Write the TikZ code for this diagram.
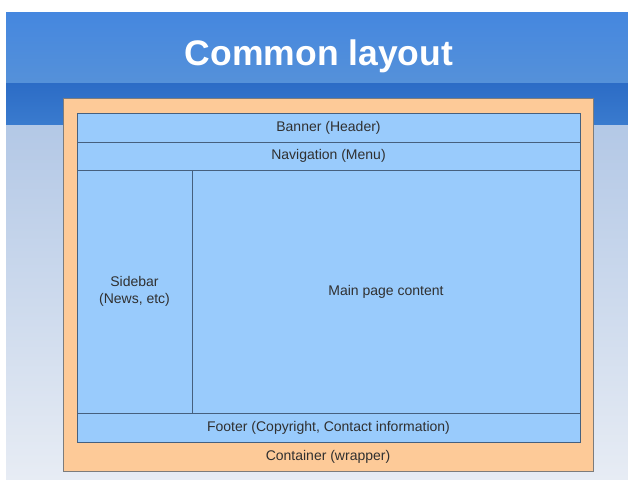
\documentclass[tikz,border=0pt]{standalone}
\usepackage{fontspec}
\setmainfont{Liberation Sans}
\definecolor{hdrtop}{HTML}{4587DF}
\definecolor{hdrbot}{HTML}{5591D9}
\definecolor{bandtop}{HTML}{2C6CC6}
\definecolor{bandbot}{HTML}{3A7BCE}
\definecolor{bgtop}{HTML}{B3C8E6}
\definecolor{bgbot}{HTML}{E7ECF4}
\definecolor{wrapfill}{HTML}{FDCA98}
\definecolor{wrapline}{HTML}{7C7C7C}
\definecolor{boxfill}{HTML}{99CBFC}
\definecolor{boxline}{HTML}{46607E}
\definecolor{txt}{HTML}{303030}
\tikzset{
  wrapbox/.style={draw=wrapline, fill=wrapfill, line width=1pt, anchor=north west, inner sep=0pt, outer sep=0pt},
  areabox/.style={draw=boxline, fill=boxfill, line width=0.9pt, anchor=north west, inner sep=0pt, outer sep=0pt},
  lbl/.style={text=txt, font=\fontsize{14}{16.5}\selectfont, align=center, inner sep=0pt},
}
\begin{document}
\begin{tikzpicture}[x=1pt,y=-1pt]
\useasboundingbox (0,0) rectangle (628,479);
\fill[white] (0,0) rectangle (628,479);
% background bands
\shade[top color=hdrtop, bottom color=hdrbot] (6,12) rectangle (628,83);
\shade[top color=bandtop, bottom color=bandbot] (6,83) rectangle (628,125);
\shade[top color=bgtop, bottom color=bgbot] (6,125) rectangle (628,479);
\node[anchor=base, inner sep=0pt] (title) at (319,65) {\color{white}\fontsize{35.5}{40}\selectfont\bfseries Common layout};
% container
\node[wrapbox, minimum width=530pt, minimum height=373pt] (wrap) at (63,98) {};
\node[lbl] (wraptxt) at (328,457) {Container (wrapper)};
% inner areas
\node[areabox, minimum width=503pt, minimum height=29pt] (banner) at (77,113) {};
\node[areabox, minimum width=503pt, minimum height=28pt] (nav) at (77,142) {};
\node[areabox, minimum width=115pt, minimum height=243pt] (side) at (77,170) {};
\node[areabox, minimum width=388pt, minimum height=243pt] (main) at (192,170) {};
\node[areabox, minimum width=503pt, minimum height=29pt] (foot) at (77,413) {};
\node[lbl] at (banner.center) {Banner (Header)};
\node[lbl] at (nav.center) {Navigation (Menu)};
\node[lbl] at (side.center) {Sidebar\\(News, etc)};
\node[lbl] at (main.center) {Main page content};
\node[lbl] at (foot.center) {Footer (Copyright, Contact information)};
\end{tikzpicture}
\end{document}
